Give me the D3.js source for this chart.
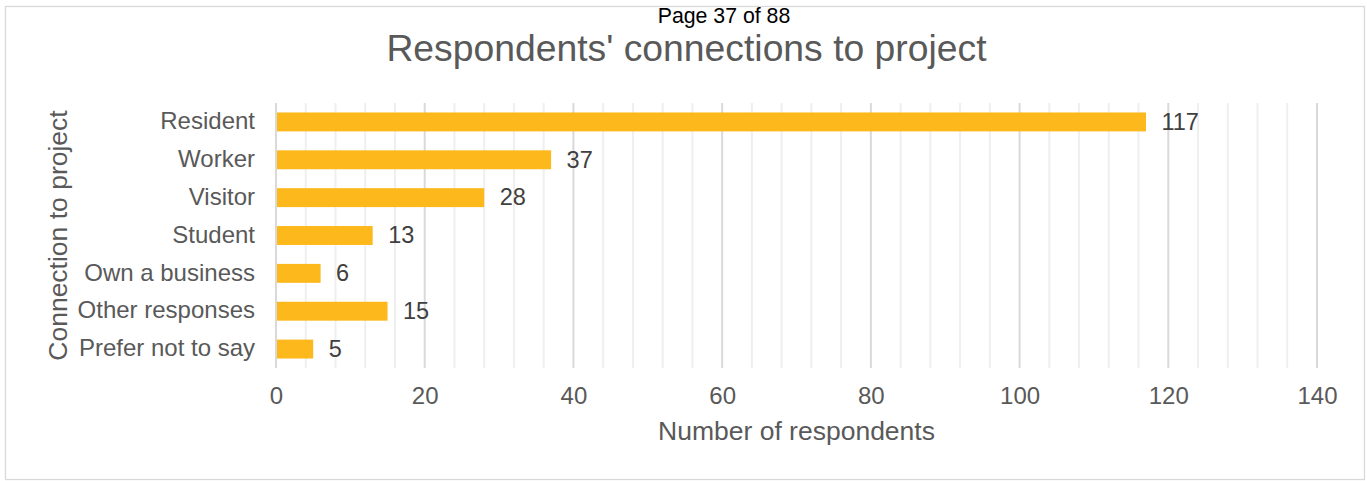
<!DOCTYPE html>
<html>
<head>
<meta charset="utf-8">
<script src="https://cdn.jsdelivr.net/npm/d3@7"></script>
<style>
  html, body { margin: 0; padding: 0; background: #fff; }
  svg { display: block; font-family: "Liberation Sans", Arial, sans-serif; }
</style>
</head>
<body>
<svg id="chart" width="1367" height="481"></svg>
<script>
// Respondents by connection to the project
const categories = ["Resident", "Worker", "Visitor", "Student", "Own a business", "Other responses", "Prefer not to say"];
const counts = [117, 37, 28, 13, 6, 15, 5];
const majorTicks = [0, 20, 40, 60, 80, 100, 120, 140];
const minorTicks = d3.range(0, 141, 4);

const pageLabel = "Page 37 of 88";
const titleText = "Respondents' connections to project";
const xTitle = "Number of respondents";
const yTitle = "Connection to project";

const svg = d3.select("#chart");
const plot = { left: 276, right: 1317, top: 103, bottom: 368 };

// outer frame
svg.append("rect")
  .attr("x", 5.5).attr("y", 6.5)
  .attr("width", 1359).attr("height", 473)
  .attr("fill", "#fff").attr("stroke", "#d9d9d9").attr("stroke-width", 1.3);

const x = d3.scaleLinear().domain([0, 140]).range([plot.left, plot.right]);
const y = d3.scaleBand().domain(categories).range([plot.top, plot.bottom]).paddingInner(0.5).paddingOuter(0.25);

// minor gridlines
svg.append("g")
  .selectAll("line")
  .data(minorTicks.filter(v => v % 20 !== 0))
  .join("line")
  .attr("x1", d => x(d)).attr("x2", d => x(d))
  .attr("y1", plot.top).attr("y2", plot.bottom)
  .attr("stroke", "#efefef").attr("stroke-width", 2);

// major gridlines
svg.append("g")
  .selectAll("line")
  .data(majorTicks)
  .join("line")
  .attr("x1", d => x(d)).attr("x2", d => x(d))
  .attr("y1", plot.top).attr("y2", plot.bottom)
  .attr("stroke", "#d9d9d9").attr("stroke-width", 2);

// bars
svg.append("g")
  .selectAll("rect")
  .data(categories)
  .join("rect")
  .attr("x", x(0) + 1)
  .attr("y", d => y(d))
  .attr("width", (d, i) => x(counts[i]) - x(0) - 1)
  .attr("height", y.bandwidth())
  .attr("fill", "#FDB81B");

// value labels
svg.append("g")
  .selectAll("text")
  .data(categories)
  .join("text")
  .attr("x", (d, i) => x(counts[i]) + 15.5)
  .attr("y", d => y(d) + y.bandwidth() / 2)
  .attr("dy", "0.33em")
  .attr("font-size", 23.5)
  .attr("fill", "#404040")
  .text((d, i) => counts[i]);

// category axis
const yAxis = svg.append("g")
  .attr("transform", `translate(${plot.left},0)`)
  .call(d3.axisLeft(y).tickSize(0).tickPadding(21));
yAxis.select(".domain").remove();
yAxis.selectAll("text")
  .attr("font-size", 24)
  .attr("font-family", "Liberation Sans, Arial, sans-serif")
  .attr("fill", "#595959")
  .attr("dy", "0.3em");

// value axis
const xAxis = svg.append("g")
  .attr("transform", `translate(0,${plot.bottom})`)
  .call(d3.axisBottom(x).tickValues(majorTicks).tickSize(0).tickPadding(0));
xAxis.select(".domain").remove();
xAxis.selectAll("text")
  .attr("font-size", 24)
  .attr("font-family", "Liberation Sans, Arial, sans-serif")
  .attr("fill", "#595959")
  .attr("dy", null)
  .attr("y", 36);

// titles
svg.append("text")
  .attr("x", 724).attr("y", 22.5)
  .attr("text-anchor", "middle")
  .attr("font-size", 21.3)
  .attr("fill", "#000")
  .text(pageLabel);

svg.append("text")
  .attr("x", 686.5).attr("y", 61)
  .attr("text-anchor", "middle")
  .attr("font-size", 37.3)
  .attr("fill", "#595959")
  .text(titleText);

svg.append("text")
  .attr("x", (plot.left + plot.right) / 2).attr("y", 440)
  .attr("text-anchor", "middle")
  .attr("font-size", 26.5)
  .attr("fill", "#595959")
  .text(xTitle);

svg.append("text")
  .attr("transform", `translate(67,${(plot.top + plot.bottom) / 2}) rotate(-90)`)
  .attr("text-anchor", "middle")
  .attr("font-size", 26.5)
  .attr("fill", "#595959")
  .text(yTitle);
</script>
</body>
</html>
